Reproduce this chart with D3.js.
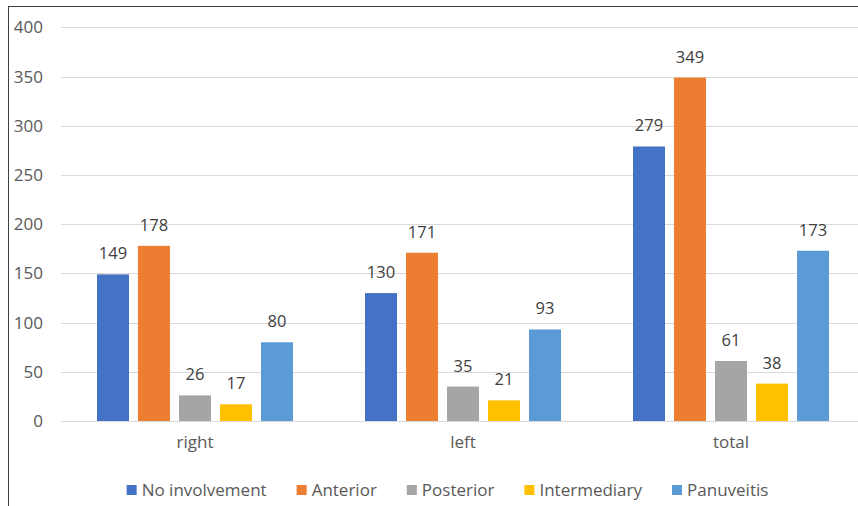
<!DOCTYPE html>
<html>
<head>
<meta charset="utf-8">
<script src="https://cdn.jsdelivr.net/npm/d3@7"></script>
<style>
  body { margin: 0; background: #fff; }
  text { font-family: "Open Sans", "Liberation Sans", sans-serif; }
</style>
</head>
<body>
<div id="chart"></div>
<script>
// chart data
var categories = ["right", "left", "total"];
var seriesNames = ["No involvement", "Anterior", "Posterior", "Intermediary", "Panuveitis"];
var noInvolvement = [149, 130, 279];
var anterior = [178, 171, 349];
var posterior = [26, 35, 61];
var intermediary = [17, 21, 38];
var panuveitis = [80, 93, 173];
var yTicks = [0, 50, 100, 150, 200, 250, 300, 350, 400];

var colors = ["#4472C4", "#ED7D31", "#A5A5A5", "#FFC000", "#5B9BD5"];
var seriesValues = [noInvolvement, anterior, posterior, intermediary, panuveitis];

var svgWidth = 858, svgHeight = 506;

var svg = d3.select("#chart")
  .append("svg")
  .attr("width", svgWidth)
  .attr("height", svgHeight);

// outer chart border (only top and left are inside the picture)
svg.append("rect")
  .attr("x", 8.5)
  .attr("y", 6.5)
  .attr("width", 900)
  .attr("height", 600)
  .attr("fill", "none")
  .attr("stroke", "#404040")
  .attr("stroke-width", 1);

// scales
var x0 = d3.scaleBand()
  .domain(categories)
  .range([61, 865])
  .paddingInner(0.2687)
  .paddingOuter(0.1343);

var x1 = d3.scaleBand()
  .domain(seriesNames)
  .range([0, x0.bandwidth()])
  .paddingInner(0.22)
  .paddingOuter(0);

var y = d3.scaleLinear()
  .domain([0, 400])
  .range([421, 27.4]);

// gridlines
svg.append("g")
  .selectAll("line")
  .data(yTicks)
  .enter()
  .append("line")
  .attr("x1", 61)
  .attr("x2", 870)
  .attr("y1", d => Math.round(y(d)) + 0.5)
  .attr("y2", d => Math.round(y(d)) + 0.5)
  .attr("stroke", "#D9D9D9")
  .attr("stroke-width", 1);

// y axis labels
var leftAxis = d3.axisLeft(y).tickValues(yTicks).tickSize(0).tickPadding(0);
var yAxisG = svg.append("g")
  .attr("transform", "translate(43, 0)")
  .call(leftAxis);
yAxisG.select(".domain").remove();
yAxisG.selectAll("text")
  .attr("fill", "#595959")
  .attr("font-size", "17px")
  .attr("font-family", "'Open Sans', sans-serif");

// bars
var groups = svg.append("g")
  .selectAll("g")
  .data(categories)
  .enter()
  .append("g")
  .attr("transform", d => `translate(${x0(d)}, 0)`);

var barData = function(c, i) {
  return seriesNames.map(function(s, j) {
    return { series: s, value: seriesValues[j][i], color: colors[j] };
  });
};

groups.selectAll("rect")
  .data(barData)
  .enter()
  .append("rect")
  .attr("x", d => x1(d.series))
  .attr("y", d => y(d.value))
  .attr("width", x1.bandwidth())
  .attr("height", d => y(0) - y(d.value))
  .attr("fill", d => d.color);

// value labels
groups.selectAll("text")
  .data(barData)
  .enter()
  .append("text")
  .attr("x", d => x1(d.series) + x1.bandwidth() / 2)
  .attr("y", d => y(d.value) - 15)
  .attr("text-anchor", "middle")
  .attr("fill", "#404040")
  .attr("font-size", "16.5px")
  .text(d => d.value);

// category labels
var bottomAxis = d3.axisBottom(x0).tickSize(0).tickPadding(0);
var xAxisG = svg.append("g")
  .attr("transform", "translate(0, 436)")
  .call(bottomAxis);
xAxisG.select(".domain").remove();
xAxisG.selectAll("text")
  .attr("fill", "#595959")
  .attr("font-size", "17px")
  .attr("font-family", "'Open Sans', sans-serif");

// legend
var legend = svg.append("g");
var items = legend.selectAll("g")
  .data(seriesNames)
  .enter()
  .append("g");

items.append("rect")
  .attr("y", 485)
  .attr("width", 10)
  .attr("height", 10)
  .attr("fill", (d, i) => colors[i]);

items.append("text")
  .attr("x", 15)
  .attr("y", 496)
  .attr("fill", "#595959")
  .attr("font-size", "17px")
  .text(d => d);

var gap = 30;
var offsets = [];
var pos = 0;
items.each(function(d, i) {
  var w = d3.select(this).select("text").node().getComputedTextLength();
  offsets.push(pos);
  pos += 15 + w + gap;
});
var totalW = pos - gap;
var startX = 447.5 - totalW / 2;
items.attr("transform", (d, i) => `translate(${startX + offsets[i]}, 0)`);
</script>
</body>
</html>
